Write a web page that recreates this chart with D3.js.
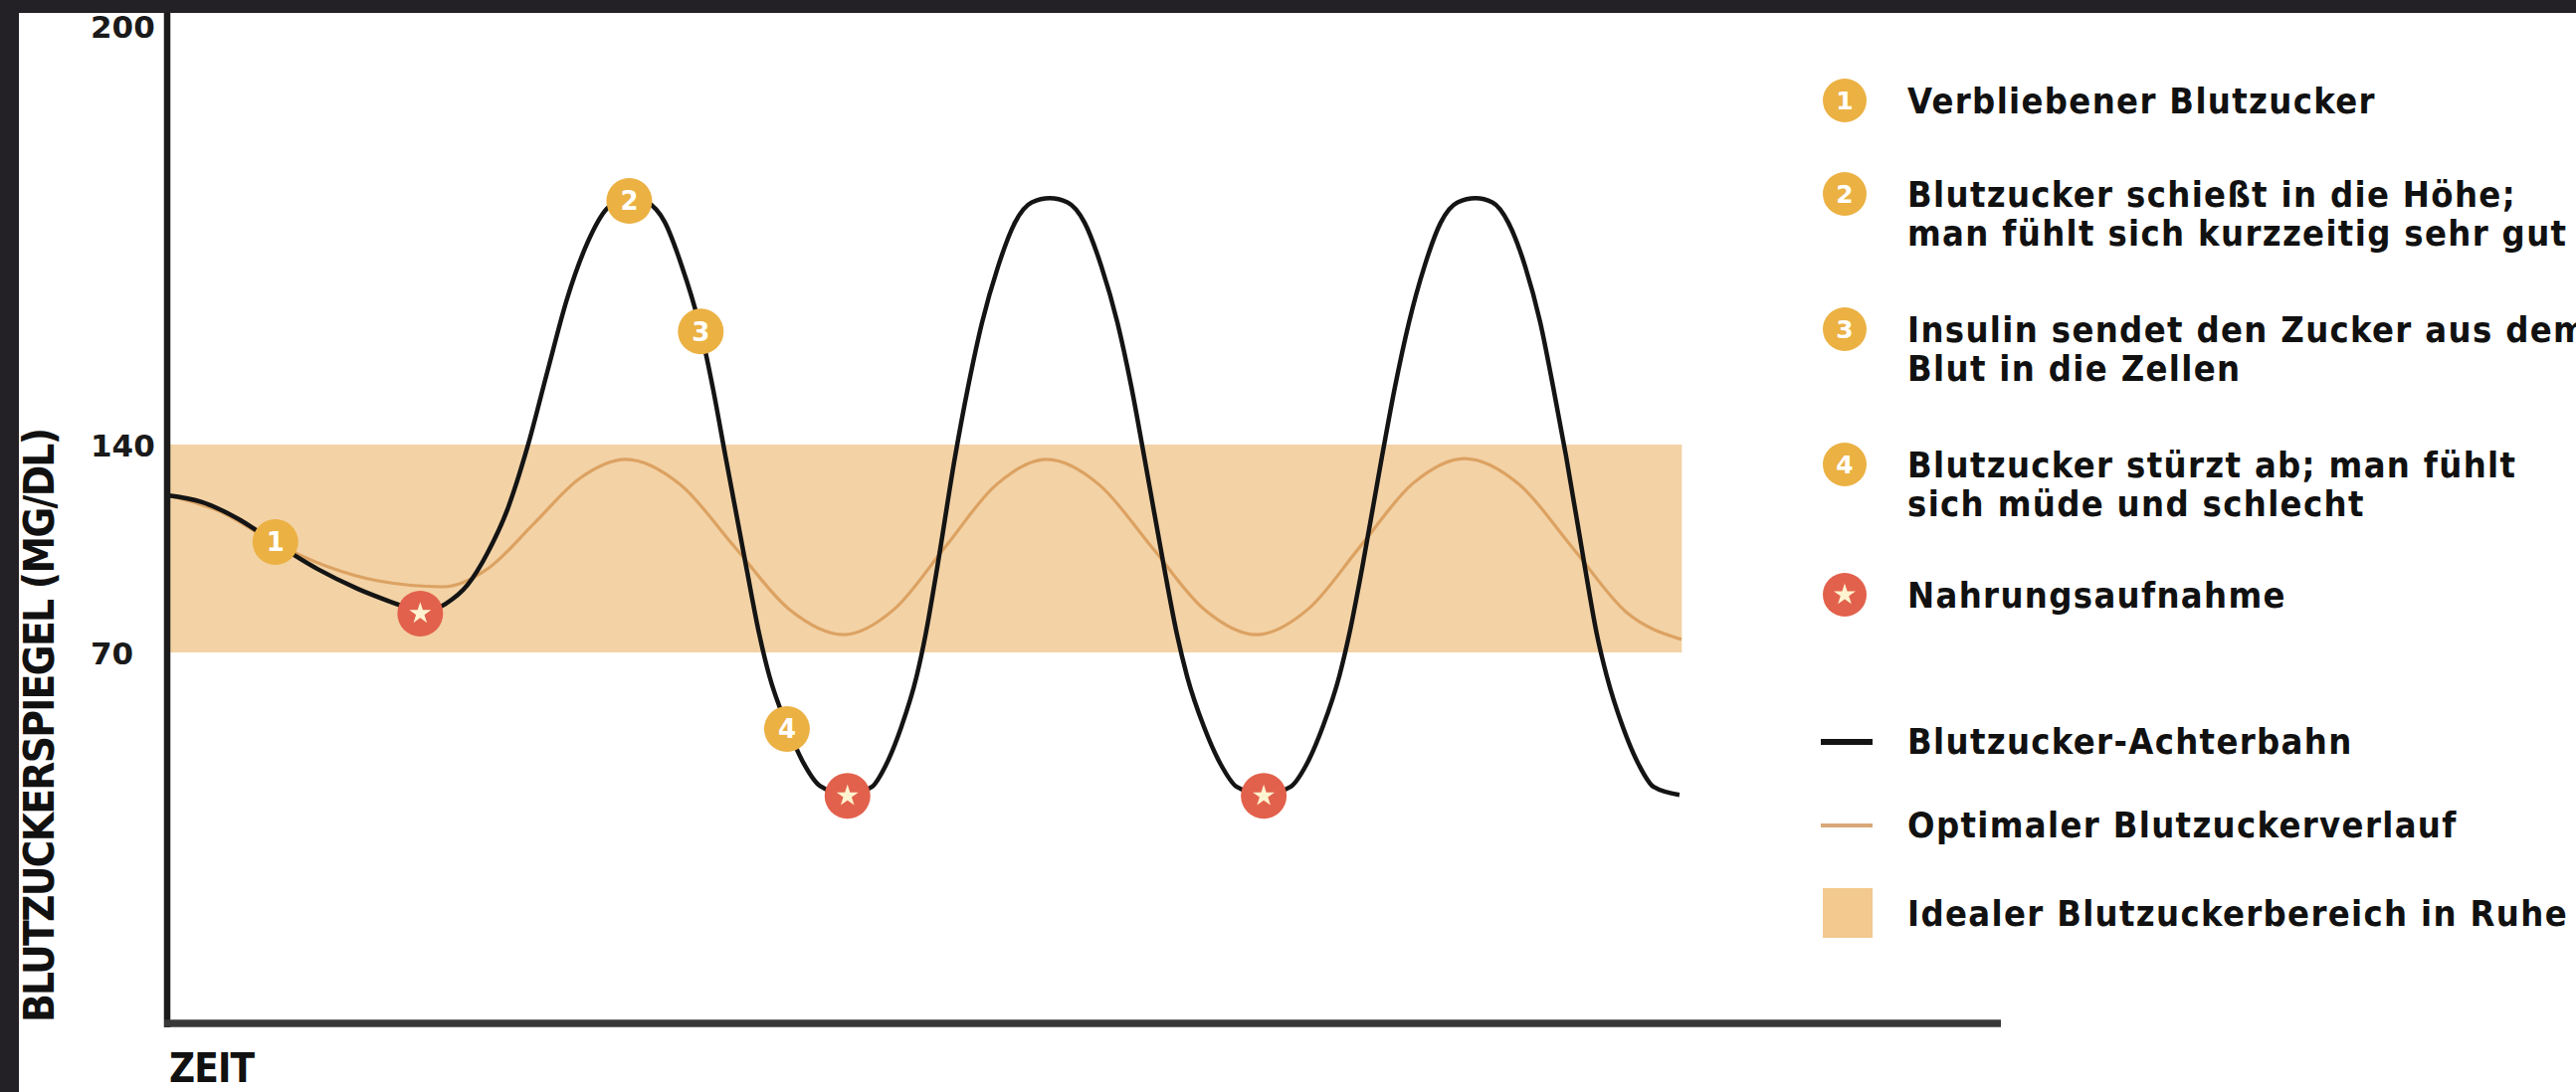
<!DOCTYPE html>
<html><head><meta charset="utf-8">
<script src="https://cdn.jsdelivr.net/npm/d3@7"></script>
<style>
html,body{margin:0;padding:0;background:#fff;overflow:hidden;}
svg{display:block;}
</style></head><body>
<svg id="chart" width="2589" height="1098"></svg>
<script>
// ---------------- data ----------------
const yTickValues = [200, 140, 70];
const idealLow = 70, idealHigh = 140;
const idealStart = 0, idealEnd = 82.6;

// "Blutzucker-Achterbahn" (black curve): time (arbitrary units) / value (mg/dl, schematic)
const rollerTime = [
  0, 1.9, 3.9, 5.9, 8.2, 10.4, 12.6, 13.8,
  15.19, 16.39, 17.47, 18.56, 19.64, 20.73, 21.81, 22.90, 23.98, 25.18,
  26.15, 27.13, 28.05, 28.97, 29.73, 30.44, 31.58, 32.28, 32.83, 33.80, 34.73, 35.59, 37.11,
  38.43, 39.21, 40.04, 40.87, 41.36, 42.00, 42.97, 43.68, 44.44, 45.31, 46.23, 47.15, 48.13,
  49.10, 50.03, 50.95, 51.82, 52.58, 53.28, 54.37, 55.07, 55.62, 56.54, 57.46, 58.33, 59.79,
  61.26, 62.13, 63.02, 63.92, 64.46, 65.17, 66.25, 66.96, 67.72, 68.56, 69.45, 70.37, 71.35,
  72.27, 73.14, 74.06, 74.88, 75.58, 76.29, 77.32, 77.97, 78.51, 79.38, 80.25, 81.06, 82.47];
const rollerValue = [
  122.9, 120.6, 114.9, 106.8, 98.1, 91.4, 86.1, 83.4,
  86.4, 92.8, 103.5, 118.2, 139.0, 150.4, 160.9, 168.8, 173.8, 175.5,
  174.8, 171.9, 165.7, 157.7, 148.5, 136.3, 98.8, 76.4, 65.7, 56.2, 49.0, 44.9, 43.2,
  44.7, 48.9, 56.0, 65.5, 76.0, 98.8, 136.0, 148.3, 157.5, 165.5, 171.8, 174.7, 175.3,
  174.7, 171.8, 165.5, 157.5, 148.3, 136.0, 98.5, 76.0, 65.5, 56.0, 48.9, 44.7, 43.2,
  44.7, 48.9, 56.0, 65.5, 76.0, 98.5, 136.0, 148.3, 157.5, 165.5, 171.8, 174.7, 175.3,
  174.7, 171.8, 165.5, 157.5, 148.3, 136.0, 98.5, 76.0, 65.5, 56.0, 48.9, 44.7, 43.2];

// "Optimaler Blutzuckerverlauf" (orange curve)
const optimalTime = [0, 2.82, 5.91, 8.79, 11.50, 15.03, 17.53, 20.02, 22.52, 25.01, 28.00, 30.95, 33.91, 36.90,
  39.66, 42.43, 45.20, 47.97, 50.84, 53.69, 56.54, 59.41, 62.24, 65.08, 67.93, 70.75, 73.71, 76.67, 79.62, 82.58];
const optimalValue = [122.9, 117.6, 106.8, 98.8, 94.1, 92.1, 98.4, 113.5, 128.7, 135.0, 126.4, 105.5, 84.6, 76.0,
  84.6, 105.5, 126.4, 135.0, 126.4, 105.5, 84.6, 76.0, 84.7, 105.8, 126.9, 135.3, 126.7, 105.0, 83.3, 74.4];

// numbered markers on the black curve
const markerLabel = ["1", "2", "3", "4"];
const markerTime  = [5.9, 25.2, 29.1, 33.8];
const markerValue = [107.2, 174.9, 156.2, 55.6];

// meal markers (Nahrungsaufnahme)
const mealTime  = [13.8, 37.1, 59.8];
const mealValue = [83.1, 43.0, 43.0];

// legend texts
const legendNumbered = [
  ["Verbliebener Blutzucker"],
  ["Blutzucker schießt in die Höhe;", "man fühlt sich kurzzeitig sehr gut"],
  ["Insulin sendet den Zucker aus dem", "Blut in die Zellen"],
  ["Blutzucker stürzt ab; man fühlt", "sich müde und schlecht"]
];
const legendMeal = "Nahrungsaufnahme";
const legendSeries = ["Blutzucker-Achterbahn", "Optimaler Blutzuckerverlauf", "Idealer Blutzuckerbereich in Ruhe"];
const yTitle = "BLUTZUCKERSPIEGEL (MG/DL)";
const xTitle = "ZEIT";

// ---------------- layout ----------------
const W = 2589, H = 1098;
const FONT = "'Liberation Sans Narrow','DejaVu Sans Condensed','Arial Narrow',sans-serif";
const C = {
  frame: "#232026", band: "#f3d2a5", bandLegend: "#f3c98f",
  black: "#141414", orange: "#dca262", gold: "#ebb143", red: "#e2614c", axisX: "#383838"
};

const svg = d3.select("#chart");
svg.append("rect").attr("width", W).attr("height", H).attr("fill", "#fff");

const x = d3.scaleLinear().domain([0, 100]).range([168, 2011]);
// schematic (piece-wise) value axis, as in the original graphic
const y = d3.scaleLinear().domain([0, 70, 140, 200]).range([1030, 656, 447, 26]);

const plot = svg.append("g");

// ideal band
plot.append("rect")
  .attr("x", x(idealStart)).attr("y", y(idealHigh))
  .attr("width", x(idealEnd) - x(idealStart))
  .attr("height", y(idealLow) - y(idealHigh))
  .attr("fill", C.band);

const line = d3.line().x(d => x(d[0])).y(d => y(d[1])).curve(d3.curveMonotoneX);

plot.append("path")
  .datum(optimalTime.map((t, i) => [t, optimalValue[i]]))
  .attr("d", line).attr("fill", "none")
  .attr("stroke", C.orange).attr("stroke-width", 3.2);

plot.append("path")
  .datum(rollerTime.map((t, i) => [t, rollerValue[i]]))
  .attr("d", line).attr("fill", "none")
  .attr("stroke", C.black).attr("stroke-width", 4.5)
  .attr("stroke-linejoin", "round");

// axes lines
svg.append("line").attr("x1", 168).attr("x2", 168).attr("y1", 0).attr("y2", 1033)
  .attr("stroke", "#1b1b1b").attr("stroke-width", 6.5);
svg.append("line").attr("x1", 165).attr("x2", x(100)).attr("y1", 1029).attr("y2", 1029)
  .attr("stroke", C.axisX).attr("stroke-width", 7.5);

// y ticks via d3 axis
const yAxis = svg.append("g").attr("transform", "translate(168,0)")
  .call(d3.axisLeft(y).tickValues(yTickValues).tickSize(0).tickFormat(d3.format("d")));
yAxis.select(".domain").remove();
yAxis.selectAll("text")
  .attr("x", -77).attr("text-anchor", "start").attr("dy", "0.36em")
  .style("font-family", "'DejaVu Sans',sans-serif").style("font-weight", "700")
  .style("font-size", "31px").attr("fill", "#1a1a1a");

// axis titles
svg.append("text")
  .attr("transform", "translate(54,1028) rotate(-90)")
  .attr("text-anchor", "start")
  .attr("textLength", 598).attr("lengthAdjust", "spacing")
  .style("font-family", FONT).style("font-weight", "700").style("font-size", "42px")
  .attr("fill", "#111").text(yTitle);

svg.append("text")
  .attr("x", 170).attr("y", 1088)
  .attr("textLength", 86).attr("lengthAdjust", "spacing")
  .style("font-family", FONT).style("font-weight", "700").style("font-size", "40px")
  .attr("fill", "#111").text(xTitle);

// numbered markers
const mk = plot.selectAll("g.mk").data(markerLabel).join("g")
  .attr("transform", (d, i) => `translate(${x(markerTime[i])},${y(markerValue[i])})`);
mk.append("circle").attr("r", 23).attr("fill", C.gold);
mk.append("text").text(d => d)
  .attr("text-anchor", "middle").attr("dy", "0.36em")
  .style("font-family", "'DejaVu Sans',sans-serif").style("font-weight", "700").style("font-size", "26px")
  .attr("fill", "#fff");

// meal markers
const star = d3.symbol().type(d3.symbolStar).size(150);
const ml = plot.selectAll("g.ml").data(mealTime).join("g")
  .attr("transform", (d, i) => `translate(${x(d)},${y(mealValue[i])})`);
ml.append("circle").attr("r", 23).attr("fill", C.red);
ml.append("path").attr("d", star).attr("fill", "#fff4cf");

// ---------------- legend ----------------
const LX = 1854, TX = 1917, CAP = 13, LH = 39;
const lg = svg.append("g");
const legendTexts = [];
function addText(txt, cy) {
  const t = lg.append("text").attr("x", TX).attr("y", cy + CAP)
    .style("font-family", FONT).style("font-weight", "700").style("font-size", "36px")
    .attr("fill", "#111").text(txt);
  legendTexts.push(t);
  return t;
}
const numberedY = [101, 195, 331, 467];
legendNumbered.forEach((lines, i) => {
  const cy = numberedY[i];
  lg.append("circle").attr("cx", LX).attr("cy", cy).attr("r", 22).attr("fill", C.gold);
  lg.append("text").attr("x", LX).attr("y", cy).attr("dy", "0.36em").attr("text-anchor", "middle")
    .style("font-family", "'DejaVu Sans',sans-serif").style("font-weight", "700").style("font-size", "25px")
    .attr("fill", "#fff").text(markerLabel[i]);
  lines.forEach((l, j) => addText(l, cy + j * LH));
});
// meal
lg.append("circle").attr("cx", LX).attr("cy", 598).attr("r", 22).attr("fill", C.red);
lg.append("path").attr("transform", `translate(${LX},598)`).attr("d", star).attr("fill", "#fff4cf");
addText(legendMeal, 598);
// series
lg.append("line").attr("x1", 1830).attr("x2", 1882).attr("y1", 746).attr("y2", 746)
  .attr("stroke", C.black).attr("stroke-width", 6);
addText(legendSeries[0], 745);
lg.append("line").attr("x1", 1830).attr("x2", 1882).attr("y1", 830).attr("y2", 830)
  .attr("stroke", "#d8a878").attr("stroke-width", 4);
addText(legendSeries[1], 829);
lg.append("rect").attr("x", 1832).attr("y", 893).attr("width", 50).attr("height", 50)
  .attr("fill", C.bandLegend);
const ref = addText(legendSeries[2], 918);

// fit tracking of the legend font to the original width of the last legend line
const natural = ref.node().getComputedTextLength();
const n = legendSeries[2].length;
const ls = (664 - natural) / n;
legendTexts.forEach(t => t.style("letter-spacing", ls + "px"));

// dark frame (top and left edges of the original)
svg.append("rect").attr("x", 0).attr("y", 0).attr("width", W).attr("height", 13).attr("fill", C.frame);
svg.append("rect").attr("x", 0).attr("y", 0).attr("width", 19).attr("height", H).attr("fill", C.frame);
</script>
</body></html>
